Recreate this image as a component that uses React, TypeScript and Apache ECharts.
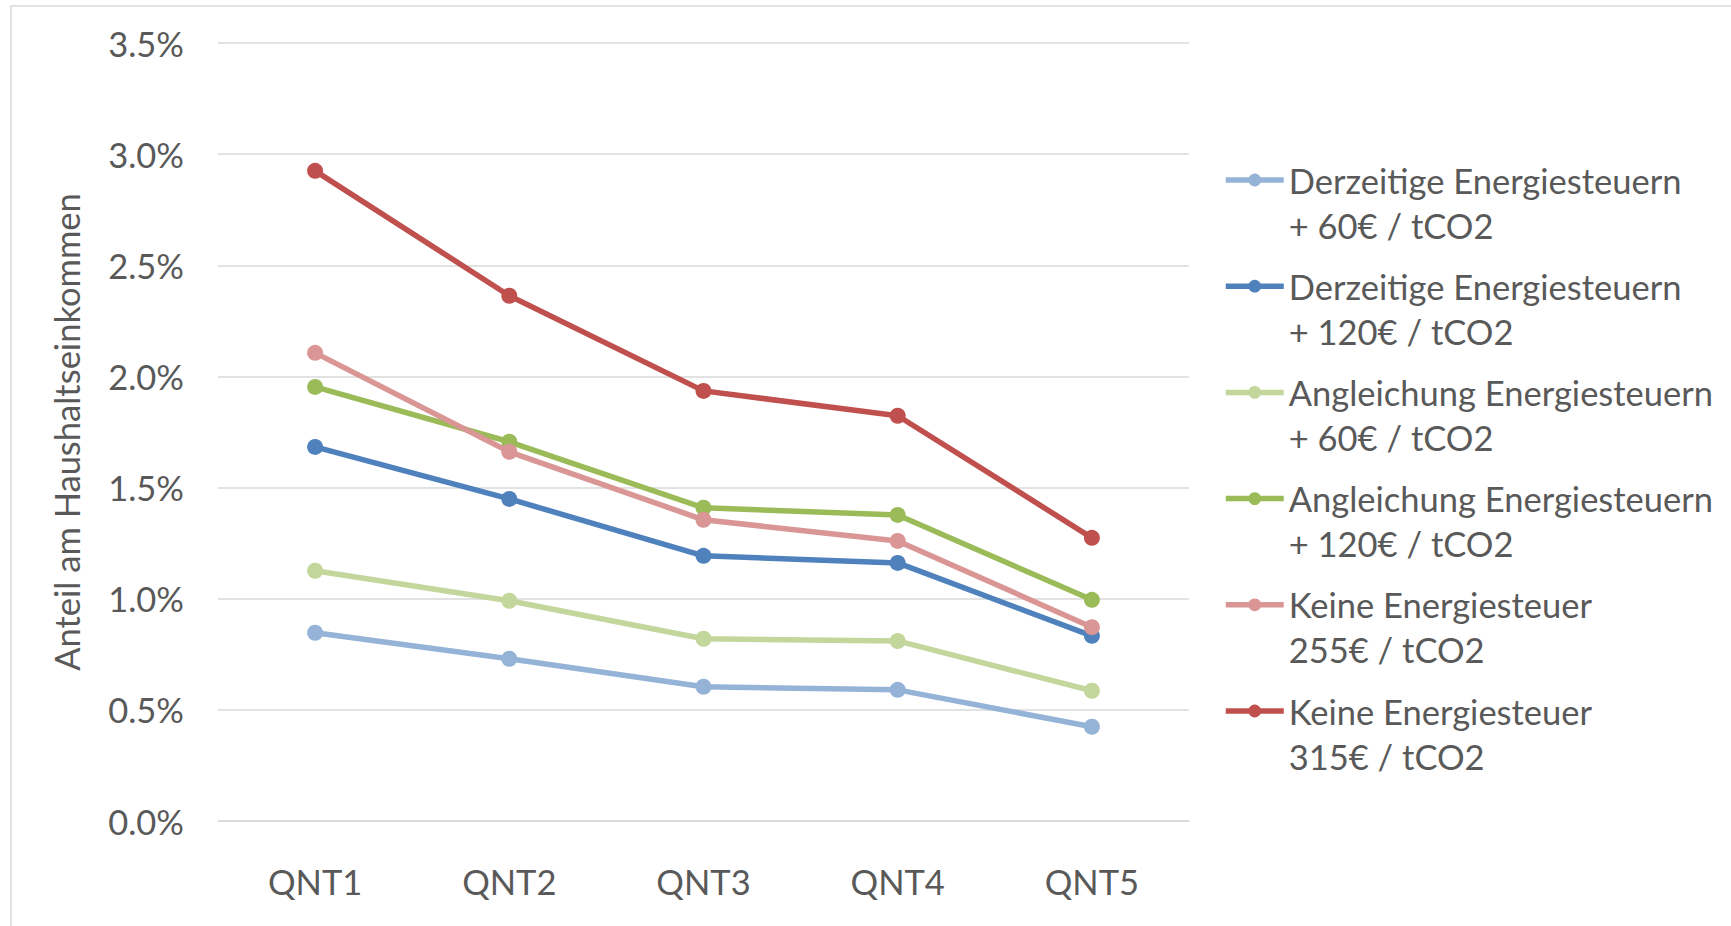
import React, { useEffect, useRef } from "react";
import * as echarts from "echarts";

// Income quintiles
const categories = ["QNT1", "QNT2", "QNT3", "QNT4", "QNT5"];

// Share of household income (%) per scenario
const derzeitige60 = [0.847, 0.73, 0.604, 0.59, 0.424];
const derzeitige120 = [1.683, 1.449, 1.193, 1.161, 0.833];
const angleichung60 = [1.126, 0.991, 0.82, 0.81, 0.586];
const angleichung120 = [1.953, 1.706, 1.409, 1.377, 0.995];
const keine255 = [2.106, 1.661, 1.355, 1.26, 0.872];
const keine315 = [2.925, 2.363, 1.935, 1.823, 1.274];

const seriesNames = [
  "Derzeitige Energiesteuern\n+ 60€ / tCO2",
  "Derzeitige Energiesteuern\n+ 120€ / tCO2",
  "Angleichung Energiesteuern\n+ 60€ / tCO2",
  "Angleichung Energiesteuern\n+ 120€ / tCO2",
  "Keine Energiesteuer\n255€ / tCO2",
  "Keine Energiesteuer\n315€ / tCO2",
];
const seriesValues = [
  derzeitige60,
  derzeitige120,
  angleichung60,
  angleichung120,
  keine255,
  keine315,
];

// Y axis scale (percent)
const yMin = 0;
const yMax = 3.5;
const yStep = 0.5;
const yAxisTitle = "Anteil am Haushaltseinkommen";

const COLORS = ["#95b3d7", "#4f81bd", "#c3d69b", "#9bbb59", "#d99694", "#c0504d"];
const TEXT = "#595959";
const GRID = "#d9d9d9";
const FONT = "Lato";
const FONT_SIZE = 34.5;

export default function App() {
  const ref = useRef<HTMLDivElement>(null);

  useEffect(() => {
    document.body.style.margin = "0";
    const chart = echarts.init(ref.current!, undefined, { renderer: "svg" });

    const LINE_H = 45;
    const legendFirstY = 180;
    const legendStep = 106.2;

    // One legend per series; a leading empty line keeps the marker level with the first text line
    const legends = seriesNames.map((name, i) => ({
      show: true,
      orient: "vertical" as const,
      left: 1223,
      top: legendFirstY + legendStep * i - LINE_H * 1.5,
      padding: 0,
      itemWidth: 58,
      itemHeight: 16,
      selectedMode: false,
      data: [name],
      formatter: (n: string) => "\n" + n,
      lineStyle: { width: 5.5 },
      textStyle: {
        fontFamily: FONT,
        fontSize: FONT_SIZE,
        color: TEXT,
        lineHeight: LINE_H,
      },
    }));

    chart.setOption({
      animation: false,
      backgroundColor: "#ffffff",
      textStyle: { fontFamily: FONT },
      graphic: [
        {
          type: "rect",
          shape: { x: 11, y: 6, width: 1800, height: 1000 },
          style: { fill: "none", stroke: GRID, lineWidth: 1.5 },
          silent: true,
          z: -10,
        },
      ],
      grid: { left: 218, right: 542, top: 43, bottom: 105, containLabel: false },
      legend: legends,
      xAxis: {
        type: "category",
        data: categories,
        boundaryGap: true,
        axisLine: { show: true, lineStyle: { color: GRID, width: 1.5 } },
        axisTick: { show: false },
        axisLabel: { color: TEXT, fontSize: FONT_SIZE, fontFamily: FONT, margin: 43 },
        splitLine: { show: false },
      },
      yAxis: {
        type: "value",
        min: yMin,
        max: yMax,
        interval: yStep,
        name: yAxisTitle,
        nameLocation: "middle",
        nameGap: 134,
        nameTextStyle: { color: TEXT, fontSize: FONT_SIZE, fontFamily: FONT },
        axisLine: { show: false },
        axisTick: { show: false },
        axisLabel: {
          color: TEXT,
          fontSize: FONT_SIZE,
          fontFamily: FONT,
          margin: 34,
          formatter: (v: number) => v.toFixed(1) + "%",
        },
        splitLine: { show: true, lineStyle: { color: GRID, width: 1.5 } },
      },
      series: seriesNames.map((name, i) => ({
        name,
        type: "line",
        data: seriesValues[i],
        symbol: "circle",
        symbolSize: 16,
        color: COLORS[i],
        lineStyle: { color: COLORS[i], width: 5.5 },
        itemStyle: { color: COLORS[i] },
        z: 2 + i,
      })),
    });

    return () => chart.dispose();
  }, []);

  return (
    <div
      ref={ref}
      style={{ position: "absolute", left: 0, top: 0, width: 1731, height: 926 }}
    />
  );
}
